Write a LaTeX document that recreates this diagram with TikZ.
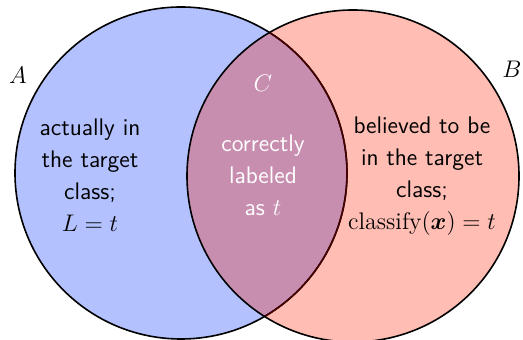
\documentclass[tikz,border=0pt]{standalone}
\usepackage{amsmath,bm}
\usepackage{fontspec}
\definecolor{setA}{RGB}{179,194,255}
\definecolor{setB}{RGB}{255,189,179}
\definecolor{setAB}{RGB}{200,142,176}
\definecolor{innerrim}{RGB}{70,0,0}
\tikzset{
  rim/.style={draw=black, line width=0.8pt},
  setlabel/.style={inner sep=0pt},
  settext/.style={align=center, inner sep=0pt, font=\sffamily\fontsize{12}{16}\selectfont},
}
\begin{document}
\begin{tikzpicture}[x=0.5pt,y=-0.5pt]
\useasboundingbox (0,0) rectangle (523,340);
\coordinate (ca) at (181,173);
\coordinate (cb) at (353,176);
% the two sets
\fill[setA] (ca) circle[radius=83pt];
\fill[setB] (cb) circle[radius=83pt];
% their intersection
\begin{scope}
  \clip (ca) circle[radius=83pt];
  \fill[setAB] (cb) circle[radius=83pt];
\end{scope}
\draw[rim] (ca) circle[radius=83pt];
\begin{scope}
  \clip (cb) circle[radius=83pt];
  \draw[rim, draw=innerrim] (ca) circle[radius=83pt];
\end{scope}
\draw[rim] (cb) circle[radius=83pt];
% labels
\node[setlabel, font=\fontsize{12}{16}\selectfont] (labA) at (18,75) {$A$};
\node[setlabel, font=\fontsize{12}{16}\selectfont] (labB) at (512,69) {$B$};
\node[setlabel, text=white, font=\fontsize{12}{16}\selectfont] (labC) at (263,83) {$C$};
\node[settext] (onlyA) at (90,175) {actually in\\the target\\class;\\$L=t$};
\node[settext] (onlyB) at (422,176) {believed to be\\in the target\\class;\\$\mathrm{classify}(\bm{x})=t$};
\node[settext, text=white] (both) at (263,175) {correctly\\labeled\\as $t$};
\end{tikzpicture}
\end{document}
